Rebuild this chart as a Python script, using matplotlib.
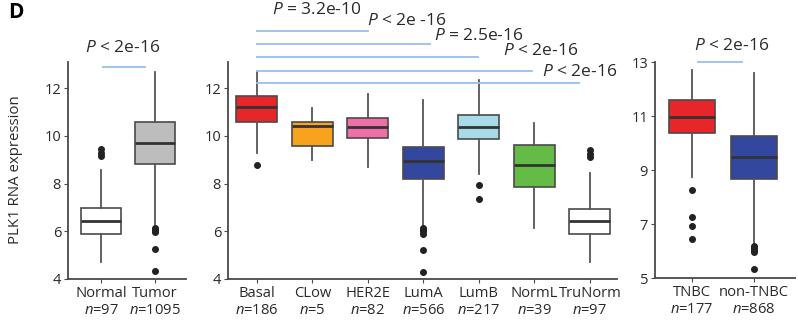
import numpy as np
import matplotlib
matplotlib.use("Agg")
import matplotlib.pyplot as plt

plt.rcParams['font.family'] = ['Open Sans', 'DejaVu Sans']
plt.rcParams['mathtext.fontset'] = 'custom'
plt.rcParams['mathtext.rm'] = 'Open Sans'
plt.rcParams['mathtext.it'] = 'Open Sans:italic'

# panel 1 : normal / tumor
noms1 = ['Normal', 'Tumor']
n1 = [97, 1095]
med1 = [6.44, 9.72]
q1_1 = [5.89, 8.84]
q3_1 = [6.98, 10.6]
lo1 = [4.7, 6.2]
hi1 = [8.55, 12.7]
fl1 = [[9.15, 9.3, 9.45], [5.95, 6.0, 6.05, 6.1, 6.15, 5.25, 4.35]]
col1 = ['white', '#bdbdbd']

# panel 2 : sous-types PAM50
noms2 = ['Basal', 'CLow', 'HER2E', 'LumA', 'LumB', 'NormL', 'TruNorm']
n2 = [186, 5, 82, 566, 217, 39, 97]
med2 = [11.22, 10.4, 10.36, 8.93, 10.36, 8.8, 6.44]
q1_2 = [10.6, 9.56, 9.9, 8.2, 9.85, 7.85, 5.87]
q3_2 = [11.66, 10.6, 10.74, 9.52, 10.86, 9.64, 6.95]
lo2 = [9.3, 8.97, 8.68, 6.23, 8.42, 6.12, 4.7]
hi2 = [12.67, 11.16, 11.75, 11.5, 12.34, 10.53, 8.46]
fl2 = [[8.76], [], [], [5.9, 6.0, 6.05, 6.1, 6.15, 5.2, 4.3], [7.96, 7.37], [], [9.1, 9.25, 9.4]]
col2 = ['#e8262a', '#f9a21b', '#f06fa8', '#34479e', '#a8dbe8', '#64bb46', 'white']

# panel 3 : TNBC
noms3 = ['TNBC', 'non-TNBC']
n3 = [177, 868]
med3 = [10.97, 9.48]
q1_3 = [10.38, 8.67]
q3_3 = [11.59, 10.26]
lo3 = [8.75, 6.25]
hi3 = [12.7, 12.6]
fl3 = [[8.26, 7.27, 6.94, 6.44], [5.95, 6.0, 6.05, 6.1, 6.15, 6.2, 5.33]]
col3 = ['#e8262a', '#34479e']

# p-values panel 2
ptxt2 = ['$P$ = 3.2e-10', '$P$ < 2e -16', '$P$ = 2.5e-16', '$P$ < 2e-16', '$P$ < 2e-16']
pfin2 = [3.0, 4.12, 4.98, 5.95, 6.8]

bleu = '#96c0ea'
gris = '#4a4a4a'
txt = '#2a2a2a'
ptaille = 12.5


def boites(ax, noms, n, med, q1, q3, lo, hi, fl, cols, w):
    stats = []
    for i in range(len(noms)):
        stats.append({'med': med[i], 'q1': q1[i], 'q3': q3[i],
                      'whislo': lo[i], 'whishi': hi[i],
                      'fliers': np.array(fl[i]),
                      'label': noms[i] + "\n$n$=" + str(n[i])})
    bp = ax.bxp(stats, widths=w, patch_artist=True, showcaps=False,
                boxprops=dict(edgecolor=gris, linewidth=1.2),
                medianprops=dict(color='#333333', linewidth=2),
                whiskerprops=dict(color='#555555', linewidth=1.3),
                flierprops=dict(marker='o', markerfacecolor='#222222',
                                markeredgecolor='#222222', markersize=4))
    for b, c in zip(bp['boxes'], cols):
        b.set_facecolor(c)
    for s in ['top', 'right']:
        ax.spines[s].set_visible(False)
    for s in ['left', 'bottom']:
        ax.spines[s].set_color(gris)
        ax.spines[s].set_linewidth(1.3)
    ax.tick_params(axis='both', length=3, color=gris, labelcolor=txt)
    ax.tick_params(axis='y', labelsize=10.5, pad=2)
    ax.tick_params(axis='x', labelsize=10.6, pad=2)
    return bp


W, H = 798, 321
fig = plt.figure(figsize=(W / 100, H / 100), dpi=100)


def pos(x0, x1, y0, y1):
    return [x0 / W, 1 - y1 / H, (x1 - x0) / W, (y1 - y0) / H]


ax1 = fig.add_axes(pos(68, 186, 62, 279))
boites(ax1, noms1, n1, med1, q1_1, q3_1, lo1, hi1, fl1, col1, 0.73)
ax1.set_xlim(0.39, 2.57)
ax1.set_ylim(4, 13.1)
ax1.set_yticks([4, 6, 8, 10, 12])
ax1.plot([1.04, 1.81], [12.91, 12.91], color=bleu, lw=1.3, clip_on=False)
ax1.text(1.40, 13.68, '$P$ < 2e-16', ha='center', va='center', fontsize=ptaille, color=txt)

ax2 = fig.add_axes(pos(228, 617, 62, 279))
boites(ax2, noms2, n2, med2, q1_2, q3_2, lo2, hi2, fl2, col2, 0.74)
ax2.set_xlim(0.48, 7.49)
ax2.set_ylim(4, 13.1)
ax2.set_yticks([4, 6, 8, 10, 12])
ly = [14.42, 13.87, 13.29, 12.74, 12.2]
tx = [1.27, 2.98, 4.19, 5.43, 6.14]
ty = [15.26, 14.84, 14.2, 13.56, 12.7]
for i in range(len(ptxt2)):
    ax2.plot([1, pfin2[i]], [ly[i], ly[i]], color=bleu, lw=1.3, clip_on=False)
    ax2.text(tx[i], ty[i], ptxt2[i], ha='left', va='center', fontsize=ptaille, color=txt)

ax3 = fig.add_axes(pos(655, 795, 62, 278))
boites(ax3, noms3, n3, med3, q1_3, q3_3, lo3, hi3, fl3, col3, 0.75)
ax3.set_xlim(0.40, 2.66)
ax3.set_ylim(5, 13)
ax3.set_yticks([5, 7, 9, 11, 13])
ax3.plot([1.10, 1.81], [12.99, 12.99], color=bleu, lw=1.3, clip_on=False)
ax3.text(1.63, 13.6, '$P$ < 2e-16', ha='center', va='center', fontsize=ptaille, color=txt)

fig.text(16 / W, 1 - 170 / H, 'PLK1 RNA expression', rotation=90, ha='center', va='center',
         fontsize=10.8, color=txt)
fig.text(8 / W, 1 - 13 / H, 'D', ha='left', va='center', fontsize=15, fontweight='bold')

fig.savefig('out.png', dpi=100)
